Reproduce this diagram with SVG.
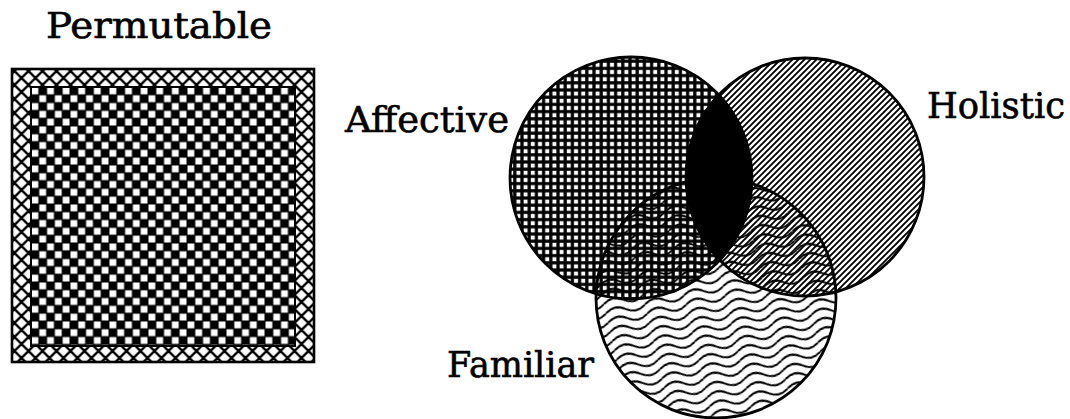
<svg xmlns="http://www.w3.org/2000/svg" width="1070" height="419" viewBox="0 0 1070 419">
  <style>
    .lbl { font-family: "DejaVu Serif", "Liberation Serif", serif; font-size: 35px; fill: #000; stroke: #000; stroke-width: 0.6; }
    .outline { fill: none; stroke: #000; stroke-width: 2.8; }
  </style>
  <defs>
    <pattern id="cross" patternUnits="userSpaceOnUse" width="14" height="14" patternTransform="translate(14.5 71)">
      <rect width="14" height="14" fill="#fff"/>
      <path d="M-2 -2L16 16M16 -2L-2 16" stroke="#000" stroke-width="2.4" fill="none"/>
    </pattern>
    <pattern id="checker" patternUnits="userSpaceOnUse" x="31" y="87" width="15.6" height="15.6">
      <rect width="15.6" height="15.6" fill="#000"/>
      <rect x="0.5" y="0.5" width="6.8" height="6.8" fill="#fff"/>
      <rect x="8.3" y="8.3" width="6.8" height="6.8" fill="#fff"/>
    </pattern>
    <pattern id="grid" patternUnits="userSpaceOnUse" width="7.2" height="7.2">
      <path d="M0 3.6H7.2M3.6 0V7.2" stroke="#000" stroke-width="3.2" fill="none"/>
    </pattern>
    <pattern id="diag" patternUnits="userSpaceOnUse" width="6" height="6">
      <path d="M-1 1L1 -1M0 6L6 0M5 7L7 5" stroke="#000" stroke-width="1.9" fill="none"/>
    </pattern>
    <pattern id="wave" patternUnits="userSpaceOnUse" width="40" height="9.5" patternTransform="rotate(-13)">
      <path d="M0 4.75Q10 -2.5 20 4.75T40 4.75" stroke="#000" stroke-width="2" fill="none"/>
    </pattern>
    <clipPath id="clipHol">
      <circle cx="805" cy="177" r="119"/>
    </clipPath>
  </defs>

  <rect width="1070" height="419" fill="#fff"/>

  <g id="node-permutable">
    <text class="lbl" x="46" y="38" textLength="226" lengthAdjust="spacingAndGlyphs">Permutable</text>
    <rect x="12" y="69" width="302" height="293" fill="url(#cross)" stroke="#000" stroke-width="2.6"/>
    <rect x="31" y="87" width="264" height="259" fill="url(#checker)" stroke="#000" stroke-width="2"/>
  </g>

  <g id="node-affective">
    <circle cx="631" cy="178" r="121" fill="url(#grid)"/>
    <text class="lbl" x="345" y="132" textLength="164" lengthAdjust="spacingAndGlyphs">Affective</text>
  </g>

  <g id="node-holistic">
    <circle cx="805" cy="177" r="119" fill="url(#diag)"/>
    <text class="lbl" x="927" y="118" textLength="138" lengthAdjust="spacingAndGlyphs">Holistic</text>
  </g>

  <g id="node-familiar">
    <circle cx="716" cy="298" r="120" fill="url(#wave)"/>
    <text class="lbl" x="447" y="377" textLength="147" lengthAdjust="spacingAndGlyphs">Familiar</text>
  </g>

  <g id="overlap-affective-holistic">
    <circle cx="631" cy="178" r="121" fill="#000" clip-path="url(#clipHol)"/>
  </g>

  <g id="outlines">
    <circle class="outline" cx="631" cy="178" r="121"/>
    <circle class="outline" cx="805" cy="177" r="119"/>
    <circle class="outline" cx="716" cy="298" r="120"/>
  </g>
</svg>
